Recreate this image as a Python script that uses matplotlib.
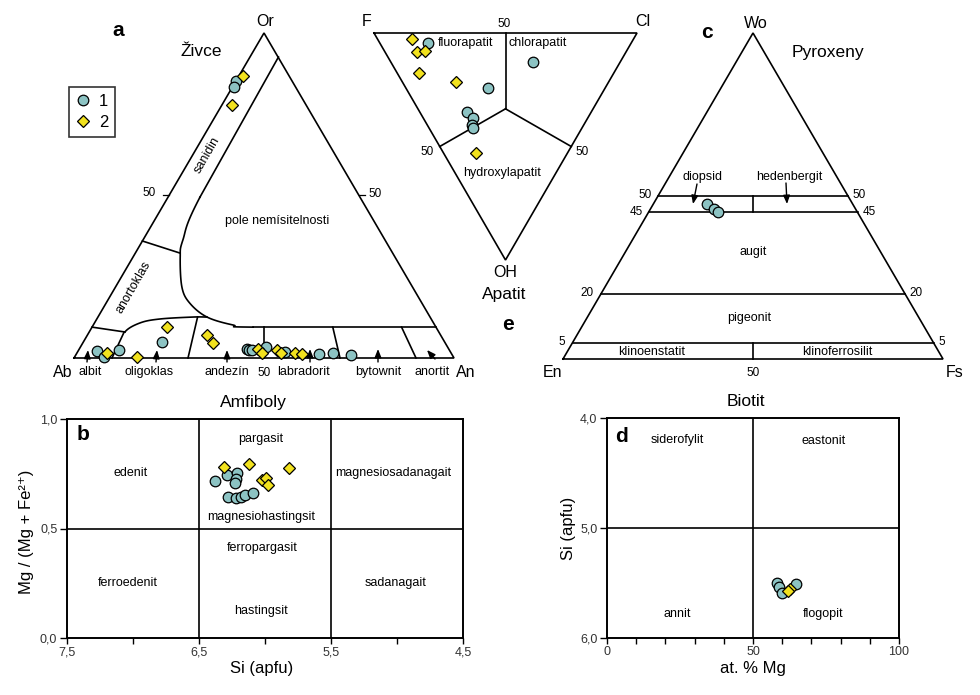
import numpy as np
import matplotlib
matplotlib.use('Agg')
import matplotlib.pyplot as plt
from matplotlib.lines import Line2D

plt.rcParams['font.family'] = ['Liberation Sans', 'DejaVu Sans']

W, H = 980, 695
S = np.sqrt(3) / 2

# ------------------------------------------------------------------ data
# Feldspars (a): An and Or in mol. % (Ab = 100 - An - Or)
fsp1_an = [0.0, 0.3, 5.0, 7.7, 10.6, 20.7, 44.1, 44.8, 45.6, 48.8, 54.6, 63.9, 67.4, 72.4]
fsp1_or = [85.2, 83.4, 2.2, 0.3, 2.5, 4.9, 2.8, 2.5, 2.5, 3.4, 1.8, 1.2, 1.5, 0.9]
fsp2_an = [1.0, 2.6, 7.9, 16.4, 19.7, 31.5, 34.3, 47.0, 48.7, 52.2, 53.7, 57.4, 59.4]
fsp2_or = [86.8, 77.8, 1.5, 0.3, 9.5, 7.1, 4.6, 2.8, 1.5, 2.5, 1.5, 1.5, 1.2]

# feldspar field boundaries (An, Or)
gap_an = [7.5, 8.4, 10.5, 12.4, 17.5, 22.0, 28.7, 36.8, 42.4, 90.5]
gap_or = [92.6, 49.5, 36.3, 31.1, 21.8, 16.9, 12.6, 10.15, 9.5, 9.5]
san_ano_an = [0.0, 11.7]
san_ano_or = [36.0, 32.3]
ano_low_an = [0.0, 9.4]
ano_low_or = [9.5, 8.0]
olig_top_an = [9.4, 12.0, 16.6, 25.0, 28.7]
olig_top_or = [8.0, 10.8, 12.0, 12.6, 12.6]
plag_bounds = [10, 30, 50, 70, 90]          # An/(Ab+An) in %
plag_tops = [8.0, 12.6, 9.5, 9.5, 9.5]      # Or at the top of each boundary
plag_names = ['albit', 'oligoklas', 'andezín', 'labradorit', 'bytownit', 'anortit']

# Apatite (e): F, Cl, OH in %
ap1_f = [77.2, 33.4, 44.3, 47.1, 43.7, 42.6, 41.4]
ap1_cl = [18.5, 54.0, 31.3, 18.0, 18.7, 16.9, 16.9]
ap1_oh = [4.3, 12.6, 24.4, 34.9, 37.6, 40.5, 41.7]
ap2_f = [84.3, 79.4, 76.7, 74.0, 58.1, 34.8]
ap2_cl = [12.9, 12.4, 15.5, 8.5, 20.2, 12.2]
ap2_oh = [2.8, 8.2, 7.8, 17.5, 21.7, 53.0]

# Pyroxenes (c): Wo, En, Fs in %
px_wo = [47.5, 45.9, 45.2]
px_en = [38.3, 37.2, 36.5]
px_fs = [14.2, 16.9, 18.3]
px_levels = [50, 45, 20, 5]

# Amphiboles (b)
amf1_si = [6.38, 6.29, 6.21, 6.22, 6.23, 6.28, 6.22, 6.18, 6.15, 6.09]
amf1_mg = [0.717, 0.744, 0.753, 0.726, 0.708, 0.644, 0.639, 0.644, 0.653, 0.662]
amf2_si = [6.31, 6.12, 5.82, 6.02, 5.99, 5.98]
amf2_mg = [0.779, 0.796, 0.775, 0.721, 0.731, 0.699]
amf_si_bounds = [6.5, 5.5]
amf_mg_bound = 0.5

# Biotite (d)
bt1_mg = [58.2, 59.0, 59.8, 64.7]
bt1_si = [5.50, 5.54, 5.59, 5.51]
bt2_mg = [62.8, 62.0]
bt2_si = [5.55, 5.57]
bt_mg_bound = 50
bt_si_bound = 5.0

# ------------------------------------------------------------------ style
C1 = '#8cc3c3'
C2 = '#f2e21e'
LW = 1.2
K1 = dict(marker='o', ls='none', mfc=C1, mec='k', mew=0.9, ms=7.6, clip_on=False, zorder=5)
K2 = dict(marker='D', ls='none', mfc=C2, mec='k', mew=0.9, ms=6.0, clip_on=False, zorder=6)
FS_LAB = 9
FS_CORNER = 11.5
FS_TITLE = 12.5
FS_NUM = 8.5

fig = plt.figure(figsize=(W / 100, H / 100), dpi=100)


def T(x, y, s, size=FS_LAB, **kw):
    kw.setdefault('ha', 'center')
    kw.setdefault('va', 'center')
    fig.text(x / W, 1 - y / H, s, fontsize=size, **kw)


def arrow(x0, y0, x1, y1):
    fig.add_artist(matplotlib.patches.FancyArrowPatch(
        (x0 / W, 1 - y0 / H), (x1 / W, 1 - y1 / H), transform=fig.transFigure,
        arrowstyle='-|>,head_length=0.5,head_width=0.2', mutation_scale=10,
        lw=1.0, color='k', shrinkA=0, shrinkB=0))


def smooth(xs, ys, n=16):
    P = np.column_stack([xs, ys]).astype(float)
    out = []
    for i in range(1, len(P) - 2):
        p0, p1, p2, p3 = P[i - 1], P[i], P[i + 1], P[i + 2]
        t = np.linspace(0, 1, n, endpoint=False)[:, None]
        out.append(0.5 * ((2 * p1) + (-p0 + p2) * t + (2 * p0 - 5 * p1 + 4 * p2 - p3) * t ** 2
                          + (-p0 + 3 * p1 - 3 * p2 + p3) * t ** 3))
    out.append(P[-2][None])
    return np.vstack(out)


def tern_ax(left, top, w, h):
    ax = fig.add_axes([left / W, 1 - (top + h) / H, w / W, h / H])
    ax.set_xlim(0, 1)
    ax.set_ylim(0, S)
    ax.axis('off')
    return ax


def line(ax, x, y, **kw):
    ax.plot(x, y, color='k', lw=LW, clip_on=False, solid_joinstyle='miter', **kw)


# ------------------------------------------------------------------ (a) feldspars
axa = tern_ax(74, 33, 380, 325)


def fxy(an, orr):
    an = np.asarray(an, float); orr = np.asarray(orr, float)
    return (an + orr / 2) / 100, orr / 100 * S


line(axa, [0, 1, 0.5, 0], [0, 0, S, 0])
gx, gy = fxy(gap_an, gap_or)
line(axa, gx[:2], gy[:2])
sm = smooth(gx, gy)
line(axa, sm[:, 0], sm[:, 1])
line(axa, gx[-2:], gy[-2:])
x, y = fxy(san_ano_an, san_ano_or); line(axa, x, y)
x, y = fxy(ano_low_an, ano_low_or); line(axa, x, y)
ox, oy = fxy(olig_top_an, olig_top_or)
ghost_x = np.r_[ox[0] - 0.01, ox, ox[-1] + 0.03]
ghost_y = np.r_[oy[0] - 0.04, oy, oy[-1]]
sm = smooth(ghost_x, ghost_y)
line(axa, sm[:, 0], sm[:, 1])
for b, top in zip(plag_bounds, plag_tops):
    x, y = fxy([b, b * (100 - top) / 100], [0, top])
    line(axa, x, y)
x, y = fxy([0, 50], [50, 50])
axa.plot([x[0], x[0] - 0.016], [y[0], y[0]], color='k', lw=0.9, clip_on=False)
axa.plot([x[1], x[1] + 0.016], [y[1], y[1]], color='k', lw=0.9, clip_on=False)

x, y = fxy(fsp1_an, fsp1_or); axa.plot(x, y, **K1)
x, y = fxy(fsp2_an, fsp2_or); axa.plot(x, y, **K2)

T(118, 31, 'a', size=15, weight='bold')
T(201, 52, 'Živce', size=FS_TITLE)
T(265, 22, 'Or', size=FS_CORNER)
T(63, 372, 'Ab', size=FS_CORNER)
T(466, 372, 'An', size=FS_CORNER)
T(156, 193, '50', size=FS_NUM, ha='right')
T(368, 194, '50', size=FS_NUM, ha='left')
T(264, 373, '50', size=FS_NUM)
T(207, 155, 'sanidin', rotation=60)
T(133, 287, 'anortoklas', rotation=60)
T(277, 221, 'pole nemísitelnosti')
name_x = [90, 149, 227, 303, 378, 432]
for nx, nm in zip(name_x, plag_names):
    T(nx, 372, nm)
arrow(87, 362, 88, 350)
arrow(156, 362, 157, 350)
arrow(227, 362, 227, 350)
arrow(310, 362, 310, 349)
arrow(378, 362, 378, 349)
arrow(435, 359, 427, 350)

# legend
hdl = [Line2D([], [], marker='o', ls='none', mfc=C1, mec='k', mew=0.9, ms=7.6, label='1'),
       Line2D([], [], marker='D', ls='none', mfc=C2, mec='k', mew=0.9, ms=6.0, label='2')]
leg = fig.legend(handles=hdl, loc='upper left', bbox_to_anchor=(69 / W, 1 - 87 / H),
                 frameon=True, fancybox=False, edgecolor='k', fontsize=12,
                 handlelength=0.9, handletextpad=0.5, borderpad=0.4, labelspacing=0.4,
                 borderaxespad=0)
leg.get_frame().set_linewidth(1.2)

# ------------------------------------------------------------------ (e) apatite
axe = tern_ax(374, 33, 263, 227)


def axy(f, cl, oh):
    cl = np.asarray(cl, float); oh = np.asarray(oh, float)
    return (cl + oh / 2) / 100, S * (1 - oh / 100)


line(axe, [0, 1, 0.5, 0], [S, S, 0, S])
cx, cy = axy(33.3, 33.3, 33.4)
for f, cl, oh in [(50, 50, 0), (50, 0, 50), (0, 50, 50)]:
    x, y = axy(f, cl, oh)
    line(axe, [cx, x], [cy, y])
x, y = axy(ap1_f, ap1_cl, ap1_oh); axe.plot(x, y, **K1)
x, y = axy(ap2_f, ap2_cl, ap2_oh); axe.plot(x, y, **K2)
T(367, 22, 'F', size=FS_CORNER)
T(643, 22, 'Cl', size=FS_CORNER)
T(505, 272, 'OH', size=FS_CORNER)
T(504, 294, 'Apatit', size=FS_TITLE)
T(504, 24, '50', size=FS_NUM)
T(427, 152, '50', size=FS_NUM)
T(582, 152, '50', size=FS_NUM)
T(466, 43, 'fluorapatit')
T(538, 43, 'chlorapatit')
T(502, 173, 'hydroxylapatit')
T(508, 324, 'e', size=15, weight='bold')

# ------------------------------------------------------------------ (c) pyroxenes
axc = tern_ax(563, 33, 380, 326)


def pxy(wo, en, fs):
    wo = np.asarray(wo, float); fs = np.asarray(fs, float)
    return (fs + wo / 2) / 100, wo / 100 * S


line(axc, [0, 1, 0.5, 0], [0, 0, S, 0])
for lv in px_levels:
    x, y = pxy([lv, lv], [100 - lv, 0], [0, 100 - lv])
    line(axc, x, y)
x, y = pxy([45, 50], [27.5, 25], [27.5, 25]); line(axc, x, y)
x, y = pxy([0, 5], [50, 47.5], [50, 47.5]); line(axc, x, y)
x, y = pxy(px_wo, px_en, px_fs); axc.plot(x, y, **K1)

T(707, 32, 'c', size=15, weight='bold')
T(756, 23, 'Wo', size=FS_CORNER)
T(828, 53, 'Pyroxeny', size=FS_TITLE)
T(552, 373, 'En', size=FS_CORNER)
T(955, 373, 'Fs', size=FS_CORNER)
T(753, 373, '50', size=FS_NUM)
for lv, yl, xl, xr in [(50, 195, 645, 859), (45, 212, 636, 869), (20, 293, 587, 916), (5, 342, 562, 942)]:
    T(xl, yl, str(lv), size=FS_NUM)
    T(xr, yl, str(lv), size=FS_NUM)
T(702, 177, 'diopsid')
T(789, 177, 'hedenbergit')
arrow(697, 184, 693, 204)
arrow(786, 183, 787, 204)
T(753, 252, 'augit')
T(749, 318, 'pigeonit')
T(652, 352, 'klinoenstatit')
T(837, 352, 'klinoferrosilit')

# ------------------------------------------------------------------ (b) amphiboles
axb = fig.add_axes([67 / W, 1 - 638 / H, 396 / W, 219 / H])
axb.set_xlim(7.5, 4.5)
axb.set_ylim(0, 1)
axb.set_xticks([7.5, 6.5, 5.5, 4.5])
axb.set_xticklabels(['7,5', '6,5', '5,5', '4,5'])
axb.set_xticks([7.0, 6.0, 5.0], minor=True)
axb.set_yticks([0, 0.5, 1.0])
axb.set_yticklabels(['0,0', '0,5', '1,0'])
for v in amf_si_bounds:
    axb.axvline(v, color='k', lw=LW)
axb.axhline(amf_mg_bound, color='k', lw=LW)
axb.plot(amf1_si, amf1_mg, **K1)
axb.plot(amf2_si, amf2_mg, **K2)
T(253, 403, 'Amfiboly', size=FS_TITLE)
T(262, 668, 'Si (apfu)', size=12)
T(27, 532, 'Mg / (Mg + Fe²⁺)', size=12, rotation=90)
T(83, 435, 'b', size=15, weight='bold')
for x, y, s in [(261, 439, 'pargasit'), (131, 473, 'edenit'), (393, 473, 'magnesiosadanagait'),
                (261, 517, 'magnesiohastingsit'), (262, 548, 'ferropargasit'),
                (128, 583, 'ferroedenit'), (396, 583, 'sadanagait'), (261, 611, 'hastingsit')]:
    T(x, y, s)

# ------------------------------------------------------------------ (d) biotite
axd = fig.add_axes([607 / W, 1 - 638 / H, 292 / W, 220 / H])
axd.set_xlim(0, 100)
axd.set_ylim(6.0, 4.0)
axd.set_xticks([0, 50, 100])
axd.set_xticks(np.arange(10, 100, 10), minor=True)
axd.set_yticks([4.0, 5.0, 6.0])
axd.set_yticklabels(['4,0', '5,0', '6,0'])
axd.axvline(bt_mg_bound, color='k', lw=LW)
axd.axhline(bt_si_bound, color='k', lw=LW)
axd.plot(bt1_mg, bt1_si, **K1)
axd.plot(bt2_mg, bt2_si, **K2)
T(746, 402, 'Biotit', size=FS_TITLE)
T(753, 668, 'at. % Mg', size=12)
T(568, 528, 'Si (apfu)', size=12, rotation=90)
T(621, 436, 'd', size=15, weight='bold')
for x, y, s in [(677, 440, 'siderofylit'), (824, 441, 'eastonit'), (677, 614, 'annit'), (823, 614, 'flogopit')]:
    T(x, y, s)

for ax in (axb, axd):
    for sp in ax.spines.values():
        sp.set_linewidth(1.4)
    ax.tick_params(which='both', direction='out', length=4, width=1, labelsize=9,
                   labelcolor='#333333', pad=2)
    ax.tick_params(axis='y', length=5)

fig.savefig('out.png', dpi=100)
